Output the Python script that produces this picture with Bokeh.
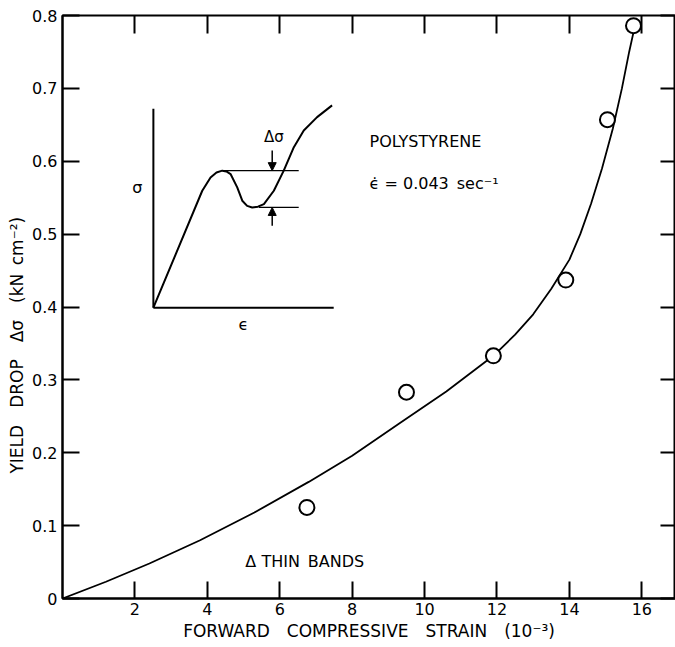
import math
from bokeh.plotting import figure
from bokeh.models import Range1d, LinearAxis, FixedTicker, Label, Arrow, NormalHead
from bokeh.embed import file_html
from bokeh.resources import INLINE

# ---- data ----
strain = [6.75, 9.5, 11.9, 13.9, 15.05, 15.77]
yield_drop = [0.125, 0.283, 0.333, 0.437, 0.657, 0.786]

fit_strain = [0.0, 1.2, 2.4, 3.8, 5.3, 6.8, 8.0, 9.3, 10.6, 11.9, 12.5, 13.0,
              13.5, 14.0, 14.3, 14.6, 14.9, 15.2, 15.45, 15.65, 15.85]
fit_drop = [0.0, 0.023, 0.048, 0.08, 0.118, 0.16, 0.196, 0.24, 0.284, 0.333,
            0.362, 0.39, 0.425, 0.465, 0.50, 0.542, 0.59, 0.645, 0.70, 0.75, 0.795]

x_ticks = [2, 4, 6, 8, 10, 12, 14, 16]
y_ticks = [0, 0.1, 0.2, 0.3, 0.4, 0.5, 0.6, 0.7, 0.8]
y_tick_labels = ["0", "0.1", "0.2", "0.3", "0.4", "0.5", "0.6", "0.7", "0.8"]

# inset schematic (local units 0..10 in both directions)
inset_eps = [0, 2.71, 3.17, 3.5, 3.82, 4.05, 4.28, 4.65, 4.93, 5.2, 5.48, 5.8,
             6.13, 6.68, 7.23, 7.79, 8.34, 9.08, 9.91]
inset_sig = [0, 5.88, 6.55, 6.8, 6.89, 6.85, 6.72, 6.05, 5.38, 5.12, 5.04, 5.08,
             5.21, 5.88, 6.89, 8.07, 8.91, 9.58, 10.17]
upper_level = 6.89
lower_level = 5.04

FONT = "DejaVu Sans"
SP = "\u2002"  # en space, keeps wide lettering gaps

p = figure(width=675, height=647, output_backend="svg", toolbar_location=None,
           x_range=Range1d(0, 16.93), y_range=Range1d(0, 0.8),
           min_border_left=62, min_border_right=0, min_border_top=15,
           min_border_bottom=49)
p.grid.visible = False
p.background_fill_color = "white"
p.border_fill_color = "white"
p.outline_line_color = "black"
p.outline_line_width = 2

for ax in p.xaxis:
    ax.ticker = FixedTicker(ticks=x_ticks)
for ax in p.yaxis:
    ax.ticker = FixedTicker(ticks=y_ticks)
    ax.major_label_overrides = {t: l for t, l in zip(y_ticks, y_tick_labels)}

for ax in p.xaxis + p.yaxis:
    ax.major_tick_in = 17
    ax.major_tick_out = 0
    ax.minor_tick_in = 0
    ax.minor_tick_out = 0
    ax.major_tick_line_width = 2
    ax.axis_line_width = 2
    ax.major_tick_line_color = "black"
    ax.axis_line_color = "black"
    ax.major_label_text_font = FONT
    ax.major_label_text_font_size = "16px"
    ax.major_label_text_color = "black"
    ax.major_label_standoff = 5
    ax.axis_label_text_font = FONT
    ax.axis_label_text_font_size = "17px"
    ax.axis_label_text_font_style = "normal"
    ax.axis_label_text_color = "black"

p.xaxis.major_label_standoff = 4
p.xaxis.axis_label = (SP * 2).join(["FORWARD", "COMPRESSIVE", "STRAIN", "(10\u207b\u00b3)"])
p.xaxis.axis_label_standoff = 3

p.yaxis.axis_label = (SP * 2).join(["YIELD", "DROP", "\u0394\u03c3", "(kN" + SP + "cm\u207b\u00b2)"]) + SP * 9
p.yaxis.axis_label_standoff = 2

# top and right tick marks (no labels)
top = LinearAxis(ticker=FixedTicker(ticks=x_ticks), major_tick_in=18, major_tick_out=0,
                 minor_tick_in=0, minor_tick_out=0, major_tick_line_width=2,
                 axis_line_color=None, major_label_overrides={t: "" for t in x_ticks},
                 major_label_standoff=0)
right = LinearAxis(ticker=FixedTicker(ticks=y_ticks), major_tick_in=15, major_tick_out=0,
                   minor_tick_in=0, minor_tick_out=0, major_tick_line_width=2,
                   axis_line_color=None, major_label_overrides={t: "" for t in y_ticks},
                   major_label_standoff=0)
p.add_layout(top, "above")
p.add_layout(right, "right")

# fitted curve and data points
p.line(fit_strain, fit_drop, line_color="black", line_width=1.8)
p.scatter(strain, yield_drop, marker="circle", size=15, fill_color="white",
          line_color="black", line_width=2)

# annotations
p.add_layout(Label(x=8.48, y=0.627, text="POLYSTYRENE", text_font=FONT,
                   text_font_size="16px", text_baseline="middle", text_color="black"))
p.add_layout(Label(x=8.48, y=0.569, text="\u03f5\u0307 = 0.043" + SP + "sec\u207b\u00b9",
                   text_font=FONT, text_font_size="16px", text_baseline="middle",
                   text_color="black"))
p.add_layout(Label(x=5.05, y=0.051, text="\u0394 THIN" + SP + "BANDS", text_font=FONT,
                   text_font_size="16px", text_baseline="middle", text_color="black"))

# ---- inset schematic ----
IX0, IXS = 2.51, 0.498    # main-x of inset origin, main-x per local unit
IY0, IYS = 0.399, 0.0273  # main-y of inset origin, main-y per local unit


def ix(u):
    return IX0 + IXS * u


def iy(v):
    return IY0 + IYS * v


p.line([ix(0), ix(0)], [iy(0), iy(10)], line_color="black", line_width=2)
p.line([ix(0), ix(10)], [iy(0), iy(0)], line_color="black", line_width=2)
p.line([ix(u) for u in inset_eps], [iy(v) for v in inset_sig],
       line_color="black", line_width=2)
p.line([ix(3.9), ix(8.06)], [iy(upper_level), iy(upper_level)], line_color="black", line_width=1.3)
p.line([ix(5.85), ix(8.06)], [iy(lower_level), iy(lower_level)], line_color="black", line_width=1.3)
p.add_layout(Arrow(end=NormalHead(size=8, fill_color="black", line_color="black"),
                   x_start=ix(6.59), y_start=iy(7.9), x_end=ix(6.59), y_end=iy(upper_level),
                   line_width=1.5, line_color="black"))
p.add_layout(Arrow(end=NormalHead(size=8, fill_color="black", line_color="black"),
                   x_start=ix(6.59), y_start=iy(4.12), x_end=ix(6.59), y_end=iy(lower_level),
                   line_width=1.5, line_color="black"))
p.add_layout(Label(x=ix(6.68), y=iy(8.57), text="\u0394\u03c3", text_align="center",
                   text_baseline="middle", text_font=FONT, text_font_size="15px",
                   text_color="black"))
p.add_layout(Label(x=ix(-0.89), y=iy(6.05), text="\u03c3", text_align="center",
                   text_baseline="middle", text_font=FONT, text_font_size="16px",
                   text_color="black"))
p.add_layout(Label(x=ix(5.0), y=iy(-0.85), text="\u03f5", text_align="center",
                   text_baseline="middle", text_font=FONT, text_font_size="16px",
                   text_color="black"))

open("out.html", "w").write(file_html(p, INLINE))
